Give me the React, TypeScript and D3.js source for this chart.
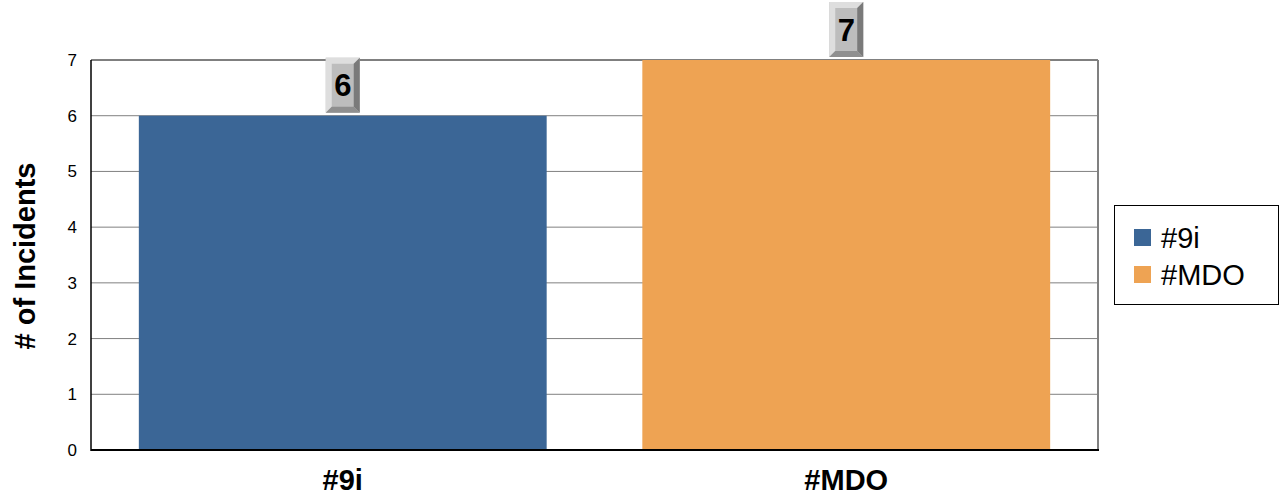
import * as d3 from "d3";

const categories = ["#9i", "#MDO"];
const incidents = [6, 7];
const colors = ["#3b6696", "#eea353"];
const yTicks = [0, 1, 2, 3, 4, 5, 6, 7];

const width = 1281;
const height = 498;
const plot = { left: 91, right: 1098, top: 60, bottom: 450 };
const font = "Arial, 'Liberation Sans', sans-serif";

export default function App() {
  const x = d3
    .scaleBand<string>()
    .domain(categories)
    .range([plot.left, plot.right])
    .paddingInner(0.19)
    .paddingOuter(0.095);
  const y = d3.scaleLinear().domain([0, 7]).range([plot.bottom, plot.top]);

  const boxW = 34;
  const boxH = 55;
  const bev = 6;

  return (
    <svg
      width={width}
      height={height}
      style={{ position: "absolute", left: 0, top: 0, background: "#fff" }}
      fontFamily={font}
    >
      {/* grid */}
      {yTicks.map((t) => (
        <line
          key={t}
          x1={plot.left}
          x2={plot.right}
          y1={y(t)}
          y2={y(t)}
          stroke={t === 7 ? "#000" : "#808080"}
          strokeWidth={1}
        />
      ))}
      {/* bars */}
      {categories.map((c, i) => (
        <rect
          key={c}
          x={x(c)}
          y={y(incidents[i])}
          width={x.bandwidth()}
          height={y(0) - y(incidents[i])}
          fill={colors[i]}
        />
      ))}
      {/* frame */}
      <line x1={plot.right} x2={plot.right} y1={plot.top} y2={plot.bottom} stroke="#808080" strokeWidth={2} />
      <line x1={plot.left} x2={plot.left} y1={plot.top} y2={plot.bottom + 1} stroke="#000" strokeWidth={1.5} />
      <line x1={plot.left} x2={plot.right + 1} y1={plot.bottom} y2={plot.bottom} stroke="#000" strokeWidth={2} />
      {/* y ticks */}
      {yTicks.map((t) => (
        <text key={t} x={77} y={y(t) + 6} textAnchor="end" fontSize={17} fill="#000">
          {t}
        </text>
      ))}
      <text
        transform={`translate(35,${(plot.top + plot.bottom) / 2 + 1}) rotate(-90)`}
        textAnchor="middle"
        fontSize={29}
        fontWeight="bold"
      >
        # of Incidents
      </text>
      {/* x labels */}
      {categories.map((c) => (
        <text
          key={c}
          x={(x(c) ?? 0) + x.bandwidth() / 2}
          y={490}
          textAnchor="middle"
          fontSize={29}
          fontWeight="bold"
        >
          {c}
        </text>
      ))}
      {/* value labels */}
      {categories.map((c, i) => {
        const cx = (x(c) ?? 0) + x.bandwidth() / 2;
        const bx = cx - boxW / 2;
        const by = y(incidents[i]) - 3 - boxH;
        return (
          <g key={c}>
            <rect x={bx} y={by} width={boxW} height={boxH} fill="#bdbdbd" />
            <polygon
              points={`${bx},${by} ${bx + boxW},${by} ${bx + boxW - bev},${by + bev} ${bx + bev},${by + bev} ${bx + bev},${by + boxH - bev} ${bx},${by + boxH}`}
              fill="#dedede"
            />
            <polygon
              points={`${bx + boxW},${by} ${bx + boxW},${by + boxH} ${bx + boxW - bev},${by + boxH - bev} ${bx + boxW - bev},${by + bev}`}
              fill="#7a7a7a"
            />
            <polygon
              points={`${bx},${by + boxH} ${bx + boxW},${by + boxH} ${bx + boxW - bev},${by + boxH - bev} ${bx + bev},${by + boxH - bev}`}
              fill="#8f8f8f"
            />
            <text x={cx} y={by + boxH / 2 + 11} textAnchor="middle" fontSize={31} fontWeight="bold">
              {incidents[i]}
            </text>
          </g>
        );
      })}
      {/* legend */}
      <rect x={1114.5} y={205.5} width={164} height={99} fill="#fff" stroke="#000" strokeWidth={1} />
      {categories.map((c, i) => (
        <g key={c}>
          <rect x={1134} y={229 + i * 37} width={17} height={17} fill={colors[i]} />
          <text x={1161} y={248 + i * 37} fontSize={29}>
            {c}
          </text>
        </g>
      ))}
    </svg>
  );
}
